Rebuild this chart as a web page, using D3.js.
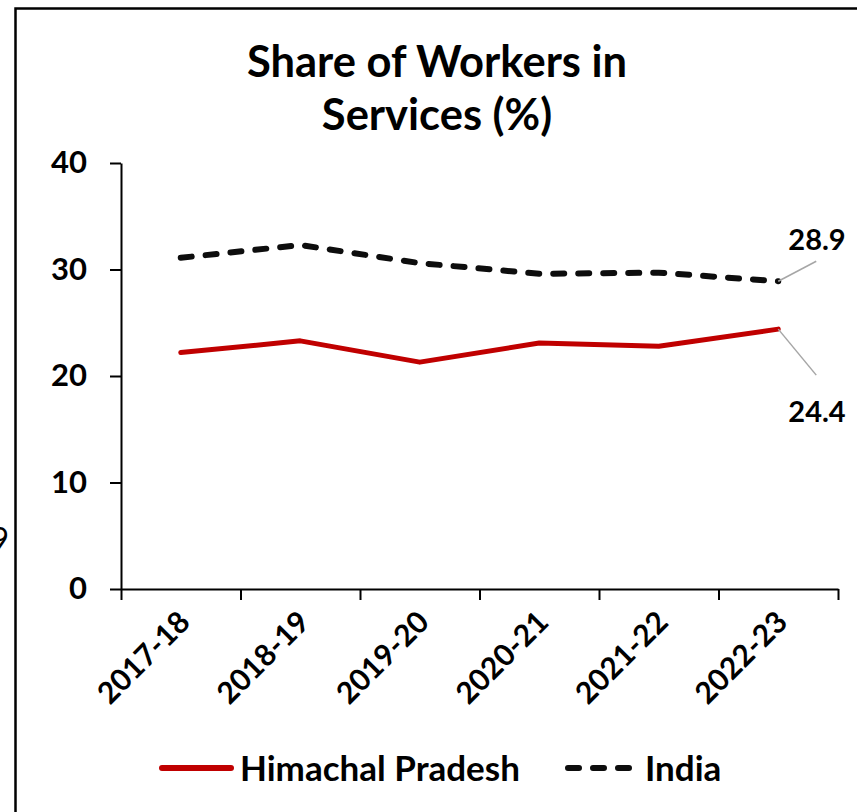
<!DOCTYPE html>
<meta charset="utf-8">
<style>
  body { margin: 0; padding: 0; background: #fff; }
  svg { display: block; font-family: 'Lato', 'Open Sans', sans-serif; }
  .axis path, .axis line { stroke: #000; stroke-width: 2; }
  .axis text { font-family: 'Lato', 'Open Sans', sans-serif; font-size: 31px; font-weight: 700; fill: #000; }
</style>
<body>
<script src="https://d3js.org/d3.v7.min.js"></script>
<div id="chart"></div>
<script>
var years = ["2017-18", "2018-19", "2019-20", "2020-21", "2021-22", "2022-23"];
var himachal = [22.2, 23.3, 21.3, 23.1, 22.8, 24.4];
var india = [31.1, 32.3, 30.6, 29.6, 29.7, 28.9];
var yTicks = [0, 10, 20, 30, 40];

var width = 857,
    height = 812;

var plot = { left: 121, right: 838, top: 163, bottom: 589 };

var svg = d3.select("#chart").append("svg")
    .attr("width", width)
    .attr("height", height);

// frame of the chart box (cut off at right and bottom)
svg.append("path")
    .attr("d", "M15.5," + height + "V8.5H" + width)
    .attr("fill", "none")
    .attr("stroke", "#000")
    .attr("stroke-width", 2.5);

// leftover digit from the neighbouring chart
svg.append("text")
    .attr("x", 9)
    .attr("y", 551)
    .attr("text-anchor", "end")
    .style("font-size", "32px")
    .text("9");

// title
var title = svg.append("text")
    .attr("text-anchor", "middle")
    .style("font-size", "43.5px")
    .style("font-weight", 700);
title.append("tspan").attr("x", 437).attr("y", 77).text("Share of Workers in");
title.append("tspan").attr("x", 437).attr("y", 130).text("Services (%)");

var x = d3.scaleBand()
    .domain(years)
    .range([plot.left, plot.right]);

var xEdge = d3.scaleLinear()
    .domain([0, years.length])
    .range([plot.left, plot.right]);

var y = d3.scaleLinear()
    .domain([0, 40])
    .range([plot.bottom, plot.top]);

svg.append("g")
    .attr("class", "axis")
    .attr("transform", "translate(" + plot.left + ",0)")
    .call(d3.axisLeft(y)
        .tickValues(yTicks)
        .tickSize(11)
        .tickSizeOuter(0)
        .tickPadding(23));

var xAxis = svg.append("g")
    .attr("class", "axis")
    .attr("transform", "translate(0," + plot.bottom + ")")
    .call(d3.axisBottom(xEdge)
        .tickValues(d3.range(years.length + 1))
        .tickSize(11)
        .tickSizeOuter(0)
        .tickFormat(""));

svg.append("g")
    .attr("class", "axis")
    .selectAll("text")
    .data(years)
    .enter().append("text")
    .attr("text-anchor", "end")
    .attr("transform", function(d) {
        return "translate(" + (x(d) + x.bandwidth() / 2 + 11) + "," + (plot.bottom + 35) + ") rotate(-45)";
    })
    .style("font-size", "30px")
    .text(function(d) { return d; });

var line = d3.line()
    .x(function(d, i) { return x(years[i]) + x.bandwidth() / 2; })
    .y(function(d) { return y(d); });

svg.append("path")
    .datum(india)
    .attr("d", line)
    .attr("fill", "none")
    .attr("stroke", "#0d0d0d")
    .attr("stroke-width", 6)
    .attr("stroke-dasharray", "11,14")
    .attr("stroke-linecap", "round")
    .attr("stroke-linejoin", "round");

svg.append("path")
    .datum(himachal)
    .attr("d", line)
    .attr("fill", "none")
    .attr("stroke", "#c00000")
    .attr("stroke-width", 5)
    .attr("stroke-linecap", "round")
    .attr("stroke-linejoin", "round");

// end labels with leader lines
var last = years.length - 1;
var lx = x(years[last]) + x.bandwidth() / 2;
var endLabels = [
    { value: india[last], dy: -20, ty: 250 },
    { value: himachal[last], dy: 46, ty: 422 }
];

svg.selectAll(".leader")
    .data(endLabels)
    .enter().append("line")
    .attr("class", "leader")
    .attr("x1", lx)
    .attr("y1", function(d) { return y(d.value); })
    .attr("x2", lx + 38)
    .attr("y2", function(d) { return y(d.value) + d.dy; })
    .attr("stroke", "#a6a6a6")
    .attr("stroke-width", 1.5);

svg.selectAll(".endlabel")
    .data(endLabels)
    .enter().append("text")
    .attr("class", "endlabel")
    .attr("x", 817)
    .attr("y", function(d) { return d.ty; })
    .attr("text-anchor", "middle")
    .style("font-size", "29px")
    .style("font-weight", 700)
    .text(function(d) { return d.value.toFixed(1); });

// legend
var legend = svg.append("g").style("font-size", "35px").style("font-weight", 700);

legend.append("line")
    .attr("x1", 162).attr("x2", 231)
    .attr("y1", 768).attr("y2", 768)
    .attr("stroke", "#c00000")
    .attr("stroke-width", 6)
    .attr("stroke-linecap", "round");
legend.append("text")
    .attr("x", 240).attr("y", 781)
    .text("Himachal Pradesh");

legend.append("line")
    .attr("x1", 568).attr("x2", 633)
    .attr("y1", 768).attr("y2", 768)
    .attr("stroke", "#0d0d0d")
    .attr("stroke-width", 6)
    .attr("stroke-dasharray", "11,14")
    .attr("stroke-linecap", "round");
legend.append("text")
    .attr("x", 645).attr("y", 781)
    .text("India");
</script>
</body>
